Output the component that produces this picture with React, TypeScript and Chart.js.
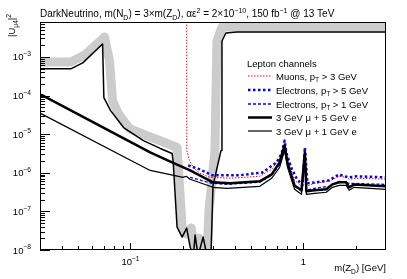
import React, { useEffect, useRef } from "react";
import { Chart, registerables } from "chart.js";

Chart.register(...registerables);

// ---------- data (mass in GeV, |U_mu4|^2) ----------
// existing limit (black line with gray excluded-side band)
const massLimit = [0.0304, 0.0452, 0.053, 0.069, 0.0702, 0.0768, 0.0912, 0.1188, 0.1487, 0.174, 0.1767, 0.186, 0.199, 0.2113, 0.2213, 0.231, 0.2364, 0.246, 0.263, 0.2772, 0.292, 0.3, 0.334, 0.338, 0.356, 0.412, 3.0];
const valLimit = [4.9e-4, 4.9e-4, 7.0e-4, 2.16e-3, 8.8e-5, 4.06e-5, 1.48e-5, 6.8e-6, 4.26e-6, 3.16e-6, 1.85e-6, 3.9e-8, 2.16e-8, 3.7e-8, 1.2e-8, 7e-9, 2.44e-8, 7e-9, 2.16e-8, 7e-9, 7e-9, 4.7e-7, 3.78e-6, 2.58e-3, 4.16e-3, 4.4e-3, 4.4e-3];
const massBand = [0.0304, 0.0452, 0.0546, 0.0708, 0.0757, 0.0788, 0.0852, 0.0988, 0.128, 0.163, 0.186, 0.199, 0.2113, 0.2245, 0.2364, 0.249, 0.263, 0.2772, 0.2844, 0.308, 0.316, 0.338, 0.386, 3.0];
const valBand = [7.4e-4, 7.4e-4, 1.13e-3, 3.27e-3, 7.9e-4, 7.3e-5, 3.4e-5, 1.39e-5, 8.7e-6, 5.7e-6, 4.5e-6, 3.7e-8, 2.58e-8, 3.7e-8, 1e-8, 2.04e-8, 7e-9, 7e-9, 1.07e-7, 3.78e-6, 2.58e-3, 5.9e-3, 5.9e-3, 5.9e-3];

// 3 GeV mu + 5 GeV e
const massMu5e = [0.0304, 0.13, 0.174, 0.2213, 0.3, 0.376, 0.559, 0.655, 0.728, 0.778, 0.809, 0.888, 0.974, 1.019, 1.04, 1.157, 1.356, 1.468, 1.61, 1.766, 1.838, 1.964, 3.0];
const valMu5e = [1.05e-4, 3.36e-6, 1.85e-6, 1.15e-6, 5.66e-7, 5.33e-7, 6.0e-7, 9.1e-7, 1.85e-6, 5.1e-6, 1.75e-6, 4.7e-7, 3.52e-7, 3.36e-6, 3.3e-7, 3.52e-7, 3.73e-7, 5.0e-7, 5.66e-7, 5.66e-7, 4.2e-7, 5.0e-7, 4.46e-7];
// 3 GeV mu + 1 GeV e
const massMu1e = [0.0304, 0.13, 0.2017, 0.21, 0.2213, 0.3, 0.361, 0.559, 0.655, 0.728, 0.778, 0.809, 0.888, 0.974, 1.019, 1.04, 1.157, 1.356, 1.468, 1.61, 1.766, 1.838, 1.964, 3.0];
const valMu1e = [3.4e-5, 1.15e-6, 7.6e-7, 8.1e-7, 6.8e-7, 4.2e-7, 3.96e-7, 4.46e-7, 7.2e-7, 1.38e-6, 3.78e-6, 1.38e-6, 3.73e-7, 2.77e-7, 2.35e-6, 2.77e-7, 2.94e-7, 3.13e-7, 4.2e-7, 4.7e-7, 4.7e-7, 3.52e-7, 4.2e-7, 3.73e-7];
// Muons, pT > 3 GeV
const massMuons = [0.2113, 0.2117, 0.219, 0.232, 0.2524, 0.2884, 0.376, 0.559, 0.655, 0.728, 0.778, 0.809, 0.888, 0.974, 1.019, 1.04, 1.157, 1.411, 1.61, 1.766, 1.838, 2.1, 3.0];
const valMuons = [2e-2, 3.78e-6, 2.09e-6, 1.3e-6, 9.7e-7, 7.6e-7, 7.2e-7, 8.1e-7, 1.22e-6, 2.35e-6, 5.7e-6, 2.35e-6, 6.4e-7, 4.46e-7, 3.78e-6, 4.46e-7, 5.33e-7, 6.0e-7, 8.1e-7, 7.6e-7, 6.8e-7, 7.2e-7, 6.8e-7];
// Electrons, pT > 5 GeV
const massEl5 = [0.2157, 0.2524, 0.296, 0.429, 0.58, 0.7, 0.748, 0.778, 0.798, 0.853, 0.912, 0.987, 1.019, 1.054, 1.188, 1.411, 1.61, 1.72, 1.838, 2.04, 3.0];
const valEl5 = [1.55e-6, 1.22e-6, 8.6e-7, 8.6e-7, 1.02e-6, 1.85e-6, 3.16e-6, 6.8e-6, 3.16e-6, 1.3e-6, 7.2e-7, 4.7e-7, 4.5e-6, 5.33e-7, 5.66e-7, 6.4e-7, 9.1e-7, 8.1e-7, 7.6e-7, 8.1e-7, 7.6e-7];
// Electrons, pT > 1 GeV
const massEl1 = [0.2213, 0.296, 0.361, 0.559, 0.655, 0.728, 0.778, 0.809, 0.888, 0.974, 1.019, 1.04, 1.157, 1.411, 1.61, 1.838, 3.0];
const valEl1 = [7.6e-7, 5.33e-7, 5.0e-7, 5.66e-7, 8.6e-7, 1.64e-6, 4.26e-6, 1.64e-6, 4.46e-7, 3.3e-7, 3.78e-6, 3.52e-7, 3.96e-7, 4.46e-7, 6.0e-7, 5.33e-7, 5.0e-7];

const yTickExponents = [-8, -7, -6, -5, -4, -3];
const xTickValues = [0.1, 1];
const xTickLabels = [["10", "−1"], ["1", ""]];
const legendTitle = "Lepton channels";
const legendLabels = [
  ["Muons, p", "T", " > 3 GeV"],
  ["Electrons, p", "T", " > 5 GeV"],
  ["Electrons, p", "T", " > 1 GeV"],
  ["3 GeV μ + 5 GeV e", "", ""],
  ["3 GeV μ + 1 GeV e", "", ""],
];

const FONT = "'Liberation Sans', Arial, Helvetica, sans-serif";
const X_MIN = 0.03, X_MAX = 3, Y_MIN = 1e-8, Y_MAX = 0.008;

type Seg = { t: string; k?: "sub" | "sup" };

function richWidth(ctx: CanvasRenderingContext2D, segs: Seg[], size: number) {
  let w = 0;
  for (const s of segs) {
    ctx.font = `${s.k ? size * 0.7 : size}px ${FONT}`;
    w += ctx.measureText(s.t).width;
  }
  return w;
}
function drawRich(ctx: CanvasRenderingContext2D, segs: Seg[], x: number, y: number, size: number, align: "left" | "right" | "center" = "left") {
  const w = richWidth(ctx, segs, size);
  let cx = align === "left" ? x : align === "right" ? x - w : x - w / 2;
  ctx.textAlign = "left";
  ctx.textBaseline = "alphabetic";
  for (const s of segs) {
    const sz = s.k ? size * 0.7 : size;
    ctx.font = `${sz}px ${FONT}`;
    const dy = s.k === "sub" ? size * 0.3 : s.k === "sup" ? -size * 0.45 : 0;
    ctx.fillText(s.t, cx, y + dy);
    cx += ctx.measureText(s.t).width;
  }
}

const pts = (xs: number[], ys: number[]) => xs.map((x, i) => ({ x, y: ys[i] }));

const styles = [
  { color: "#ff0000", width: 1, dash: [1.5, 1.5] },
  { color: "#0000ff", width: 2.5, dash: [2.5, 2.5] },
  { color: "#0000ff", width: 1.3, dash: [3, 2] },
  { color: "#000000", width: 2.5, dash: [] as number[] },
  { color: "#000000", width: 1.2, dash: [] as number[] },
];

const decor = {
  id: "decor",
  afterDatasetsDraw(chart: any) {
    const ctx: CanvasRenderingContext2D = chart.ctx;
    const { left, right, top, bottom } = chart.chartArea;
    const xs = chart.scales.x, ys = chart.scales.y;
    ctx.save();
    ctx.strokeStyle = "#000";
    ctx.fillStyle = "#000";
    ctx.lineWidth = 1;
    ctx.setLineDash([]);
    ctx.strokeRect(left + 0.5, top + 0.5, right - left - 1, bottom - top - 1);
    // y ticks
    for (let e = -8; e <= -3; e++) {
      for (let k = 1; k <= 9; k++) {
        const v = k * Math.pow(10, e);
        if (v > Y_MAX || v < Y_MIN) continue;
        const py = Math.round(ys.getPixelForValue(v)) + 0.5;
        const len = k === 1 ? 10 : 5;
        ctx.beginPath();
        ctx.moveTo(left, py);
        ctx.lineTo(left + len, py);
        ctx.stroke();
      }
    }
    // x ticks
    for (let e = -2; e <= 0; e++) {
      for (let k = 1; k <= 9; k++) {
        const v = k * Math.pow(10, e);
        if (v <= X_MIN * 1.001 || v >= X_MAX * 0.999) continue;
        const px = Math.round(xs.getPixelForValue(v)) + 0.5;
        const len = k === 1 ? 7 : 4;
        ctx.beginPath();
        ctx.moveTo(px, bottom);
        ctx.lineTo(px, bottom - len);
        ctx.stroke();
      }
    }
    // y tick labels
    for (const e of yTickExponents) {
      const py = ys.getPixelForValue(Math.pow(10, e));
      drawRich(ctx, [{ t: "10" }, { t: "−" + Math.abs(e), k: "sup" }], left - 9, py + 3.5, 9.5, "right");
    }
    // x tick labels
    xTickValues.forEach((v, i) => {
      const px = xs.getPixelForValue(v);
      const segs: Seg[] = [{ t: xTickLabels[i][0] }];
      if (xTickLabels[i][1]) segs.push({ t: xTickLabels[i][1], k: "sup" });
      drawRich(ctx, segs, px, bottom + 15, 9.5, "center");
    });
    // axis titles
    drawRich(ctx, [{ t: "m(Z" }, { t: "D", k: "sub" }, { t: ") [GeV]" }], right, bottom + 21, 9.5, "right");
    ctx.save();
    ctx.translate(15, 37);
    ctx.rotate(-Math.PI / 2);
    drawRich(ctx, [{ t: "|U" }, { t: "μ4", k: "sub" }, { t: "|" }, { t: "2", k: "sup" }], 0, 0, 9.5, "left");
    ctx.restore();
    // title
    drawRich(ctx, [
      { t: "DarkNeutrino, m(N" }, { t: "D", k: "sub" }, { t: ") = 3×m(Z" }, { t: "D", k: "sub" },
      { t: "), αε" }, { t: "2", k: "sup" }, { t: " = 2×10" }, { t: "−10", k: "sup" },
      { t: ", 150 fb" }, { t: "−1", k: "sup" }, { t: " @ 13 TeV" },
    ], left, 17, 10, "left");
    // legend
    drawRich(ctx, [{ t: legendTitle }], 247, 67, 9.5, "left");
    const rowsY = [76, 90, 104, 117.5, 131];
    legendLabels.forEach((lab, i) => {
      const y = rowsY[i];
      const st = styles[i];
      ctx.save();
      ctx.strokeStyle = st.color;
      ctx.lineWidth = st.width;
      ctx.setLineDash(st.dash);
      ctx.beginPath();
      ctx.moveTo(248, y);
      ctx.lineTo(272, y);
      ctx.stroke();
      ctx.restore();
      ctx.fillStyle = "#000";
      const segs: Seg[] = [{ t: lab[0] }];
      if (lab[1]) segs.push({ t: lab[1], k: "sub" });
      if (lab[2]) segs.push({ t: lab[2] });
      drawRich(ctx, segs, 276, y + 3.5, 9.5, "left");
    });
    ctx.restore();
  },
};

export default function App() {
  const ref = useRef<HTMLCanvasElement | null>(null);
  useEffect(() => {
    if (!ref.current) return;
    const line = (data: any, color: string, width: number, dash: number[], order: number) => ({
      data,
      borderColor: color,
      backgroundColor: color,
      borderWidth: width,
      borderDash: dash,
      pointRadius: 0,
      fill: false,
      tension: 0,
      clip: 0,
      order,
      borderJoinStyle: "round" as const,
    });
    const chart = new Chart(ref.current, {
      type: "line",
      data: {
        datasets: [
          line(pts(massMu5e, valMu5e), "#000000", 2.5, [], 1),
          line(pts(massMu1e, valMu1e), "#000000", 1.2, [], 2),
          line(pts(massEl1, valEl1), "#0000ff", 1.3, [3, 2], 3),
          line(pts(massEl5, valEl5), "#0000ff", 2.5, [2.5, 2.5], 4),
          line(pts(massMuons, valMuons), "#ff0000", 1, [1.5, 1.5], 5),
          line(pts(massLimit, valLimit), "#000000", 1.5, [], 6),
          line(pts(massBand, valBand), "#cccccc", 9, [], 7),
        ] as any,
      },
      options: {
        animation: false,
        responsive: false,
        maintainAspectRatio: false,
        devicePixelRatio: 1,
        layout: { padding: { left: 40, top: 22, right: 21, bottom: 29 } },
        scales: {
          x: { type: "logarithmic", min: X_MIN, max: X_MAX, display: false },
          y: { type: "logarithmic", min: Y_MIN, max: Y_MAX, display: false },
        },
        plugins: { legend: { display: false }, tooltip: { enabled: false }, title: { display: false } },
        events: [],
      },
      plugins: [decor],
    });
    return () => chart.destroy();
  }, []);
  return (
    <div style={{ position: "absolute", left: 0, top: 0, width: 407, height: 279, background: "#fff" }}>
      <canvas ref={ref} width={407} height={279} style={{ display: "block", width: 407, height: 279 }} />
    </div>
  );
}
